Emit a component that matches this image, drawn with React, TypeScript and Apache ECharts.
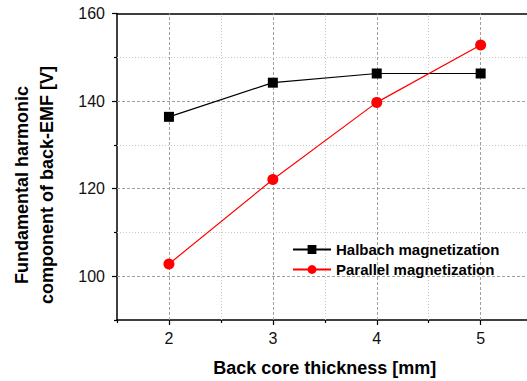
import React, { useEffect, useRef } from "react";
import * as echarts from "echarts";

const thickness = [2, 3, 4, 5];
const halbach = [136.4, 144.2, 146.3, 146.3];
const parallel = [102.8, 122.1, 139.7, 152.8];
const seriesNames = ["Halbach magnetization", "Parallel magnetization"];
const yMajor = [100, 120, 140, 160];
const yMinor = [90, 110, 130, 150];
const xMajor = [2, 3, 4, 5];
const xMinor = [1.5, 2.5, 3.5, 4.5];

export default function App() {
  const ref = useRef<HTMLDivElement>(null);
  useEffect(() => {
    const chart = echarts.init(ref.current!, null, { renderer: "svg" });
    const font = "Arial, 'Liberation Sans', sans-serif";
    const majorStyle = { color: "#a0a0a0", type: [3, 2], width: 1 };
    const minorStyle = { color: "#c8c8c8", type: [1, 2], width: 1 };
    const axisLine = { show: true, onZero: false, lineStyle: { color: "#000", width: 1.5 } };
    const gridMarks = [
      ...xMajor.map((v) => ({ xAxis: v, lineStyle: majorStyle })),
      ...xMinor.filter((v) => v > 1.5).map((v) => ({ xAxis: v, lineStyle: minorStyle })),
      ...yMajor.filter((v) => v < 160).map((v) => ({ yAxis: v, lineStyle: majorStyle })),
      ...yMinor.filter((v) => v > 90).map((v) => ({ yAxis: v, lineStyle: minorStyle })),
    ];
    chart.setOption({
      animation: false,
      backgroundColor: "#fff",
      grid: {
        left: 117,
        top: 13.5,
        width: 415.6,
        height: 306.5,
        containLabel: false,
        outerBoundsMode: "none",
      },
      legend: {
        orient: "vertical",
        left: 287,
        top: 237,
        itemWidth: 38,
        itemHeight: 11,
        itemGap: 5,
        textStyle: { fontFamily: font, fontWeight: "bold", fontSize: 15, color: "#000" },
        data: seriesNames,
      },
      xAxis: [
        {
          type: "value",
          min: 1.5,
          max: 5.5,
          interval: 0.5,
          axisLine,
          axisTick: { show: true, length: 5, customValues: xMajor, lineStyle: { color: "#000", width: 1.2 } },
          axisLabel: {
            margin: 10,
            fontFamily: font,
            fontSize: 16,
            color: "#111",
            customValues: xMajor,
          },
          splitLine: { show: false },
          name: "Back core thickness [mm]",
          nameLocation: "middle",
          nameGap: 39,
          nameTextStyle: { fontFamily: font, fontWeight: "bold", fontSize: 18, color: "#000" },
        },
        {
          type: "value",
          position: "bottom",
          min: 1.5,
          max: 5.5,
          interval: 0.5,
          axisLine: { show: false, onZero: false },
          axisTick: { show: true, length: 3, customValues: xMinor, lineStyle: { color: "#000", width: 1.2 } },
          axisLabel: { show: false },
          splitLine: { show: false },
        },
        {
          type: "value",
          position: "top",
          min: 1.5,
          max: 5.5,
          interval: 0.5,
          axisLine,
          axisTick: { show: false },
          axisLabel: { show: false },
          splitLine: { show: false },
        },
      ],
      yAxis: [
        {
          type: "value",
          min: 90,
          max: 160,
          interval: 10,
          axisLine,
          axisTick: { show: true, length: 5, customValues: yMajor, lineStyle: { color: "#000", width: 1.2 } },
          axisLabel: {
            margin: 12,
            fontFamily: font,
            fontSize: 16,
            color: "#111",
            customValues: yMajor,
          },
          splitLine: { show: false },
        },
        {
          type: "value",
          position: "left",
          min: 90,
          max: 160,
          interval: 10,
          axisLine: { show: false, onZero: false },
          axisTick: { show: true, length: 3, customValues: yMinor, lineStyle: { color: "#000", width: 1.2 } },
          axisLabel: { show: false },
          splitLine: { show: false },
        },
      ],
      graphic: [
        {
          type: "text",
          x: 34,
          y: 185,
          rotation: Math.PI / 2,
          style: {
            text: "Fundamental harmonic\ncomponent of back-EMF [V]",
            fontFamily: font,
            fontWeight: "bold",
            fontSize: 18,
            lineHeight: 25,
            fill: "#000",
            align: "center",
            verticalAlign: "middle",
          },
        },
      ],
      series: [
        {
          name: "grid",
          type: "line",
          data: [],
          z: 1,
          silent: true,
          markLine: {
            silent: true,
            z: 1,
            symbol: "none",
            label: { show: false },
            animation: false,
            data: gridMarks,
          },
        },
        {
          name: seriesNames[0],
          type: "line",
          z: 3,
          data: thickness.map((x, i) => [x, halbach[i]]),
          symbol: "rect",
          symbolSize: 10,
          itemStyle: { color: "#000" },
          lineStyle: { color: "#000", width: 1.2 },
        },
        {
          name: seriesNames[1],
          type: "line",
          z: 3,
          data: thickness.map((x, i) => [x, parallel[i]]),
          symbol: "circle",
          symbolSize: 11,
          itemStyle: { color: "#ff0000" },
          lineStyle: { color: "#ff0000", width: 1.2 },
        },
      ],
    });
    return () => chart.dispose();
  }, []);
  return (
    <div
      ref={ref}
      style={{ position: "absolute", left: 0, top: 0, width: 527, height: 381, overflow: "hidden" }}
    />
  );
}
